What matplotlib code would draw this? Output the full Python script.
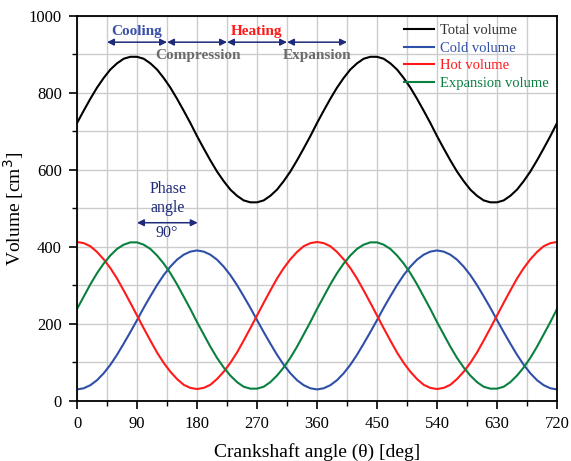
import matplotlib
matplotlib.use("Agg")
import matplotlib.pyplot as plt
from matplotlib.ticker import MultipleLocator

plt.rcParams["font.family"] = ["Liberation Serif", "DejaVu Serif"]

# crank angle samples [deg]
angle = list(range(0, 721, 10))

total_volume = [722, 754, 785, 814, 839, 861, 877, 889, 894, 894, 889, 877,
                861, 839, 814, 785, 754, 722, 688, 656, 625, 596, 571, 549,
                533, 521, 516, 516, 521, 533, 549, 571, 596, 625, 656, 688,
                722, 754, 785, 814, 839, 861, 877, 889, 894, 894, 889, 877,
                861, 839, 814, 785, 754, 722, 688, 656, 625, 596, 571, 549,
                533, 521, 516, 516, 521, 533, 549, 571, 596, 625, 656, 688,
                722]
cold_volume = [30, 33, 41, 54, 72, 94, 120, 149, 179, 210, 242, 272,
               301, 327, 349, 367, 380, 388, 391, 388, 380, 367, 349, 327,
               301, 272, 242, 210, 179, 149, 120, 94, 72, 54, 41, 33,
               30, 33, 41, 54, 72, 94, 120, 149, 179, 210, 242, 272,
               301, 327, 349, 367, 380, 388, 391, 388, 380, 367, 349, 327,
               301, 272, 242, 210, 179, 149, 120, 94, 72, 54, 41, 33,
               30]
hot_volume = [413, 410, 402, 387, 368, 345, 318, 287, 255, 222, 189, 157,
              126, 99, 76, 57, 42, 34, 31, 34, 42, 57, 76, 99,
              126, 157, 189, 222, 255, 287, 318, 345, 368, 387, 402, 410,
              413, 410, 402, 387, 368, 345, 318, 287, 255, 222, 189, 157,
              126, 99, 76, 57, 42, 34, 31, 34, 42, 57, 76, 99,
              126, 157, 189, 222, 255, 287, 318, 345, 368, 387, 402, 410,
              413]
expansion_volume = [239, 271, 303, 332, 357, 378, 395, 406, 412, 412, 406, 395,
                    378, 357, 332, 303, 271, 239, 205, 173, 141, 112, 87, 66,
                    49, 37, 32, 32, 37, 49, 66, 87, 112, 141, 173, 205,
                    239, 271, 303, 332, 357, 378, 395, 406, 412, 412, 406, 395,
                    378, 357, 332, 303, 271, 239, 205, 173, 141, 112, 87, 66,
                    49, 37, 32, 32, 37, 49, 66, 87, 112, 141, 173, 205,
                    239]

# process bands across the top: (start, end)
process_spans = [(45, 135), (135, 225), (225, 315), (315, 405)]

NAVY = "#1f2a7a"
BLUE = "#2f4fa8"
RED = "#ff1a1a"
GREEN = "#0a8040"
GREY = "#6b6b6b"

fig = plt.figure(figsize=(5.71, 4.61), dpi=100)
ax = fig.add_axes([0.1349, 0.1302, 0.8406, 0.8351])

ax.plot(angle, total_volume, color="black", lw=1.5, label="Total volume")
ax.plot(angle, cold_volume, color=BLUE, lw=1.5, label="Cold volume")
ax.plot(angle, hot_volume, color=RED, lw=1.5, label="Hot volume")
ax.plot(angle, expansion_volume, color=GREEN, lw=1.5, label="Expansion volume")

ax.set_xlim(0, 720)
ax.set_ylim(0, 1000)
ax.xaxis.set_major_locator(MultipleLocator(90))
ax.xaxis.set_minor_locator(MultipleLocator(45))
ax.yaxis.set_major_locator(MultipleLocator(200))
ax.yaxis.set_minor_locator(MultipleLocator(100))
ax.grid(which="both", color="#cccccc", lw=1.0)
ax.set_axisbelow(True)
ax.tick_params(which="major", direction="out", length=6, width=1.2,
               labelsize=12, pad=5)
ax.tick_params(which="minor", direction="out", length=3.5, width=1.0)
for s in ax.spines.values():
    s.set_linewidth(1.3)

ax.set_xlabel("Crankshaft angle (θ) [deg]", fontsize=14, labelpad=8)
ax.set_ylabel("Volume [cm$^3$]", fontsize=14, labelpad=2)

# process arrows
for x0, x1 in process_spans:
    ax.annotate("", xy=(x1, 932), xytext=(x0, 932),
                arrowprops=dict(arrowstyle="<|-|>", color=NAVY, lw=1.1,
                                mutation_scale=10, shrinkA=0, shrinkB=0))
ax.text(90, 960, "Cooling", color="#3a50a8", fontsize=11, fontweight="bold",
        ha="center", va="center")
ax.text(270, 960, "Heating", color=RED, fontsize=11, fontweight="bold",
        ha="center", va="center")
ax.text(182, 897, "Compression", color=GREY, fontsize=11, fontweight="bold",
        ha="center", va="center")
ax.text(360, 897, "Expansion", color=GREY, fontsize=11, fontweight="bold",
        ha="center", va="center")

# phase angle marker
ax.annotate("", xy=(181, 463), xytext=(90, 463),
            arrowprops=dict(arrowstyle="<|-|>", color=NAVY, lw=1.1,
                            mutation_scale=10, shrinkA=0, shrinkB=0))
ax.text(136, 526, "Phase\nangle", color=NAVY, fontsize=11.5, ha="center",
        va="center", linespacing=1.25)
ax.text(134, 437, "90°", color=NAVY, fontsize=11.5, ha="center", va="center")

leg = ax.legend(loc="upper right", frameon=False, fontsize=10.5,
                handlelength=2.1, handletextpad=0.4, labelspacing=0.3,
                borderaxespad=0.15)
for txt, col in zip(leg.get_texts(), ["#333333", BLUE, RED, GREEN]):
    txt.set_color(col)

fig.savefig("out.png", dpi=100)
